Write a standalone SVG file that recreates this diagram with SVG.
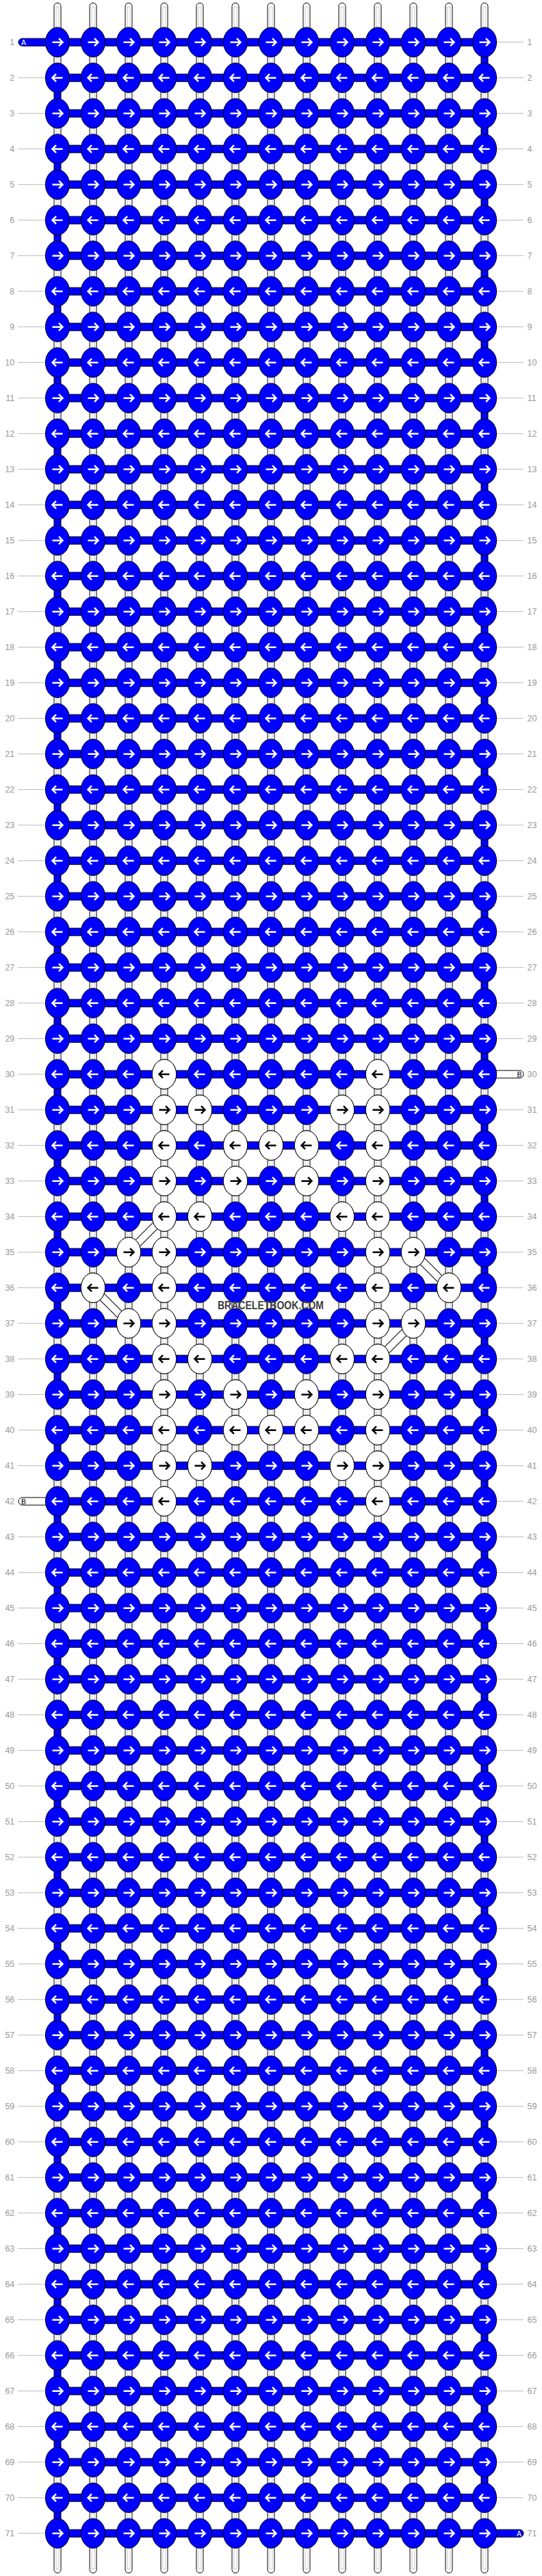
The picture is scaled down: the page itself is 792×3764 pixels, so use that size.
<svg xmlns="http://www.w3.org/2000/svg" xmlns:xlink="http://www.w3.org/1999/xlink" width="792" height="3764" viewBox="0 0 792 3764">
<style>
.kb{fill:#0000ff;stroke:#000;stroke-width:1}
.kw{fill:#fff;stroke:#000;stroke-width:1}
.aw{fill:none;stroke:#fff;stroke-width:2.5}
.ak{fill:none;stroke:#000;stroke-width:2.5}
.hb{fill:#0000ff;stroke:#000;stroke-width:1}
.vw{fill:#fff;stroke:#000;stroke-width:1}
.gl{fill:none;stroke:#c8c8c8;stroke-width:1}
.ln{fill:none;stroke:#bbbbbb;stroke-width:1}
.lbl{font-family:"Liberation Sans",Arial,sans-serif;font-size:12.5px;fill:#999999}
.tab{font-family:"Liberation Sans",Arial,sans-serif;font-size:10.5px}
.dg1{stroke:#000;stroke-width:12;fill:none}
.dg2{stroke:#fff;stroke-width:10;fill:none}
.wm{font-family:"Liberation Sans",Arial,sans-serif;font-size:16px;font-weight:bold;fill:#3c3c3c}
</style>
<defs>
<path id="ar" d="M-7.5,0H7M2,-5.5L7.5,0L2,5.5"/>
<path id="al" d="M7.5,0H-7M-2,-5.5L-7.5,0L-2,5.5"/>
<g id="kbr"><ellipse rx="17.6" ry="21.7" class="kb"/><use href="#ar" class="aw"/></g>
<g id="kbl"><ellipse rx="17.6" ry="21.7" class="kb"/><use href="#al" class="aw"/></g>
<g id="kwr"><ellipse rx="17.6" ry="21.7" class="kw"/><use href="#ar" class="ak"/></g>
<g id="kwl"><ellipse rx="17.6" ry="21.7" class="kw"/><use href="#al" class="ak"/></g>
<g id="RR"><rect x="84" y="-5.5" width="624" height="11" class="hb"/><use href="#kbr" x="84"/><use href="#kbr" x="136"/><use href="#kbr" x="188"/><use href="#kbr" x="240"/><use href="#kbr" x="292"/><use href="#kbr" x="344"/><use href="#kbr" x="396"/><use href="#kbr" x="448"/><use href="#kbr" x="500"/><use href="#kbr" x="552"/><use href="#kbr" x="604"/><use href="#kbr" x="656"/><use href="#kbr" x="708"/></g>
<g id="RL"><rect x="84" y="-5.5" width="624" height="11" class="hb"/><use href="#kbl" x="84"/><use href="#kbl" x="136"/><use href="#kbl" x="188"/><use href="#kbl" x="240"/><use href="#kbl" x="292"/><use href="#kbl" x="344"/><use href="#kbl" x="396"/><use href="#kbl" x="448"/><use href="#kbl" x="500"/><use href="#kbl" x="552"/><use href="#kbl" x="604"/><use href="#kbl" x="656"/><use href="#kbl" x="708"/></g>
<g id="vc"><rect x="-5" y="10" width="10" height="32" class="vw"/><rect x="-2" y="10" width="4" height="32" class="gl"/></g>
<rect id="vb" x="-5" y="10" width="10" height="32" class="hb"/>
<g id="GO"><use href="#vc" x="84"/><use href="#vc" x="136"/><use href="#vc" x="188"/><use href="#vc" x="240"/><use href="#vc" x="292"/><use href="#vc" x="344"/><use href="#vc" x="396"/><use href="#vc" x="448"/><use href="#vc" x="500"/><use href="#vc" x="552"/><use href="#vc" x="604"/><use href="#vc" x="656"/><use href="#vb" x="708"/></g>
<g id="GE"><use href="#vb" x="84"/><use href="#vc" x="136"/><use href="#vc" x="188"/><use href="#vc" x="240"/><use href="#vc" x="292"/><use href="#vc" x="344"/><use href="#vc" x="396"/><use href="#vc" x="448"/><use href="#vc" x="500"/><use href="#vc" x="552"/><use href="#vc" x="604"/><use href="#vc" x="656"/><use href="#vc" x="708"/></g>
<g id="tu"><rect x="-5" y="0" width="10" height="58" rx="5" class="vw"/><rect x="-2" y="6" width="4" height="46" class="gl"/></g>
<g id="TT"><use href="#tu" x="84"/><use href="#tu" x="136"/><use href="#tu" x="188"/><use href="#tu" x="240"/><use href="#tu" x="292"/><use href="#tu" x="344"/><use href="#tu" x="396"/><use href="#tu" x="448"/><use href="#tu" x="500"/><use href="#tu" x="552"/><use href="#tu" x="604"/><use href="#tu" x="656"/><use href="#tu" x="708"/></g>
</defs>
<rect width="792" height="3764" fill="#fff"/>
<g transform="translate(0,9.67)">
<path class="ln" d="M26,52H70M722,52H765M26,104H70M722,104H765M26,156H70M722,156H765M26,208H70M722,208H765M26,260H70M722,260H765M26,312H70M722,312H765M26,364H70M722,364H765M26,416H70M722,416H765M26,468H70M722,468H765M26,520H70M722,520H765M26,572H70M722,572H765M26,624H70M722,624H765M26,676H70M722,676H765M26,728H70M722,728H765M26,780H70M722,780H765M26,832H70M722,832H765M26,884H70M722,884H765M26,936H70M722,936H765M26,988H70M722,988H765M26,1040H70M722,1040H765M26,1092H70M722,1092H765M26,1144H70M722,1144H765M26,1196H70M722,1196H765M26,1248H70M722,1248H765M26,1300H70M722,1300H765M26,1352H70M722,1352H765M26,1404H70M722,1404H765M26,1456H70M722,1456H765M26,1508H70M722,1508H765M26,1560H70M26,1612H70M722,1612H765M26,1664H70M722,1664H765M26,1716H70M722,1716H765M26,1768H70M722,1768H765M26,1820H70M722,1820H765M26,1872H70M722,1872H765M26,1924H70M722,1924H765M26,1976H70M722,1976H765M26,2028H70M722,2028H765M26,2080H70M722,2080H765M26,2132H70M722,2132H765M722,2184H765M26,2236H70M722,2236H765M26,2288H70M722,2288H765M26,2340H70M722,2340H765M26,2392H70M722,2392H765M26,2444H70M722,2444H765M26,2496H70M722,2496H765M26,2548H70M722,2548H765M26,2600H70M722,2600H765M26,2652H70M722,2652H765M26,2704H70M722,2704H765M26,2756H70M722,2756H765M26,2808H70M722,2808H765M26,2860H70M722,2860H765M26,2912H70M722,2912H765M26,2964H70M722,2964H765M26,3016H70M722,3016H765M26,3068H70M722,3068H765M26,3120H70M722,3120H765M26,3172H70M722,3172H765M26,3224H70M722,3224H765M26,3276H70M722,3276H765M26,3328H70M722,3328H765M26,3380H70M722,3380H765M26,3432H70M722,3432H765M26,3484H70M722,3484H765M26,3536H70M722,3536H765M26,3588H70M722,3588H765M26,3640H70M722,3640H765M26,3692H70"/>
<g class="lbl" text-anchor="end">
<text x="21.3" y="56.5">1</text><text x="21.3" y="108.5">2</text><text x="21.3" y="160.5">3</text><text x="21.3" y="212.5">4</text><text x="21.3" y="264.5">5</text><text x="21.3" y="316.5">6</text><text x="21.3" y="368.5">7</text><text x="21.3" y="420.5">8</text><text x="21.3" y="472.5">9</text><text x="21.3" y="524.5">10</text><text x="21.3" y="576.5">11</text><text x="21.3" y="628.5">12</text><text x="21.3" y="680.5">13</text><text x="21.3" y="732.5">14</text><text x="21.3" y="784.5">15</text><text x="21.3" y="836.5">16</text><text x="21.3" y="888.5">17</text><text x="21.3" y="940.5">18</text><text x="21.3" y="992.5">19</text><text x="21.3" y="1044.5">20</text><text x="21.3" y="1096.5">21</text><text x="21.3" y="1148.5">22</text><text x="21.3" y="1200.5">23</text><text x="21.3" y="1252.5">24</text><text x="21.3" y="1304.5">25</text><text x="21.3" y="1356.5">26</text><text x="21.3" y="1408.5">27</text><text x="21.3" y="1460.5">28</text><text x="21.3" y="1512.5">29</text><text x="21.3" y="1564.5">30</text><text x="21.3" y="1616.5">31</text><text x="21.3" y="1668.5">32</text><text x="21.3" y="1720.5">33</text><text x="21.3" y="1772.5">34</text><text x="21.3" y="1824.5">35</text><text x="21.3" y="1876.5">36</text><text x="21.3" y="1928.5">37</text><text x="21.3" y="1980.5">38</text><text x="21.3" y="2032.5">39</text><text x="21.3" y="2084.5">40</text><text x="21.3" y="2136.5">41</text><text x="21.3" y="2188.5">42</text><text x="21.3" y="2240.5">43</text><text x="21.3" y="2292.5">44</text><text x="21.3" y="2344.5">45</text><text x="21.3" y="2396.5">46</text><text x="21.3" y="2448.5">47</text><text x="21.3" y="2500.5">48</text><text x="21.3" y="2552.5">49</text><text x="21.3" y="2604.5">50</text><text x="21.3" y="2656.5">51</text><text x="21.3" y="2708.5">52</text><text x="21.3" y="2760.5">53</text><text x="21.3" y="2812.5">54</text><text x="21.3" y="2864.5">55</text><text x="21.3" y="2916.5">56</text><text x="21.3" y="2968.5">57</text><text x="21.3" y="3020.5">58</text><text x="21.3" y="3072.5">59</text><text x="21.3" y="3124.5">60</text><text x="21.3" y="3176.5">61</text><text x="21.3" y="3228.5">62</text><text x="21.3" y="3280.5">63</text><text x="21.3" y="3332.5">64</text><text x="21.3" y="3384.5">65</text><text x="21.3" y="3436.5">66</text><text x="21.3" y="3488.5">67</text><text x="21.3" y="3540.5">68</text><text x="21.3" y="3592.5">69</text><text x="21.3" y="3644.5">70</text><text x="21.3" y="3696.5">71</text>
</g>
<g class="lbl">
<text x="770.5" y="56.5">1</text><text x="770.5" y="108.5">2</text><text x="770.5" y="160.5">3</text><text x="770.5" y="212.5">4</text><text x="770.5" y="264.5">5</text><text x="770.5" y="316.5">6</text><text x="770.5" y="368.5">7</text><text x="770.5" y="420.5">8</text><text x="770.5" y="472.5">9</text><text x="770.5" y="524.5">10</text><text x="770.5" y="576.5">11</text><text x="770.5" y="628.5">12</text><text x="770.5" y="680.5">13</text><text x="770.5" y="732.5">14</text><text x="770.5" y="784.5">15</text><text x="770.5" y="836.5">16</text><text x="770.5" y="888.5">17</text><text x="770.5" y="940.5">18</text><text x="770.5" y="992.5">19</text><text x="770.5" y="1044.5">20</text><text x="770.5" y="1096.5">21</text><text x="770.5" y="1148.5">22</text><text x="770.5" y="1200.5">23</text><text x="770.5" y="1252.5">24</text><text x="770.5" y="1304.5">25</text><text x="770.5" y="1356.5">26</text><text x="770.5" y="1408.5">27</text><text x="770.5" y="1460.5">28</text><text x="770.5" y="1512.5">29</text><text x="770.5" y="1564.5">30</text><text x="770.5" y="1616.5">31</text><text x="770.5" y="1668.5">32</text><text x="770.5" y="1720.5">33</text><text x="770.5" y="1772.5">34</text><text x="770.5" y="1824.5">35</text><text x="770.5" y="1876.5">36</text><text x="770.5" y="1928.5">37</text><text x="770.5" y="1980.5">38</text><text x="770.5" y="2032.5">39</text><text x="770.5" y="2084.5">40</text><text x="770.5" y="2136.5">41</text><text x="770.5" y="2188.5">42</text><text x="770.5" y="2240.5">43</text><text x="770.5" y="2292.5">44</text><text x="770.5" y="2344.5">45</text><text x="770.5" y="2396.5">46</text><text x="770.5" y="2448.5">47</text><text x="770.5" y="2500.5">48</text><text x="770.5" y="2552.5">49</text><text x="770.5" y="2604.5">50</text><text x="770.5" y="2656.5">51</text><text x="770.5" y="2708.5">52</text><text x="770.5" y="2760.5">53</text><text x="770.5" y="2812.5">54</text><text x="770.5" y="2864.5">55</text><text x="770.5" y="2916.5">56</text><text x="770.5" y="2968.5">57</text><text x="770.5" y="3020.5">58</text><text x="770.5" y="3072.5">59</text><text x="770.5" y="3124.5">60</text><text x="770.5" y="3176.5">61</text><text x="770.5" y="3228.5">62</text><text x="770.5" y="3280.5">63</text><text x="770.5" y="3332.5">64</text><text x="770.5" y="3384.5">65</text><text x="770.5" y="3436.5">66</text><text x="770.5" y="3488.5">67</text><text x="770.5" y="3540.5">68</text><text x="770.5" y="3592.5">69</text><text x="770.5" y="3644.5">70</text><text x="770.5" y="3696.5">71</text>
</g>
<g id="strings-top"><use href="#TT" y="-5.4"/></g>
<g id="strings-bottom"><use href="#TT" y="3692"/></g>
<g id="connectors">
<use href="#GO" y="52"/><use href="#GE" y="104"/><use href="#GO" y="156"/><use href="#GE" y="208"/><use href="#GO" y="260"/><use href="#GE" y="312"/><use href="#GO" y="364"/><use href="#GE" y="416"/><use href="#GO" y="468"/><use href="#GE" y="520"/><use href="#GO" y="572"/><use href="#GE" y="624"/><use href="#GO" y="676"/><use href="#GE" y="728"/><use href="#GO" y="780"/><use href="#GE" y="832"/><use href="#GO" y="884"/><use href="#GE" y="936"/><use href="#GO" y="988"/><use href="#GE" y="1040"/><use href="#GO" y="1092"/><use href="#GE" y="1144"/><use href="#GO" y="1196"/><use href="#GE" y="1248"/><use href="#GO" y="1300"/><use href="#GE" y="1352"/><use href="#GO" y="1404"/><use href="#GE" y="1456"/><use href="#GO" y="1508"/><use href="#GE" y="1560"/><use href="#GO" y="1612"/><use href="#GE" y="1664"/><use href="#GO" y="1716"/><use href="#GE" y="1768"/><use href="#GO" y="1820"/><use href="#GE" y="1872"/><use href="#GO" y="1924"/><use href="#GE" y="1976"/><use href="#GO" y="2028"/><use href="#GE" y="2080"/><use href="#GO" y="2132"/><use href="#GE" y="2184"/><use href="#GO" y="2236"/><use href="#GE" y="2288"/><use href="#GO" y="2340"/><use href="#GE" y="2392"/><use href="#GO" y="2444"/><use href="#GE" y="2496"/><use href="#GO" y="2548"/><use href="#GE" y="2600"/><use href="#GO" y="2652"/><use href="#GE" y="2704"/><use href="#GO" y="2756"/><use href="#GE" y="2808"/><use href="#GO" y="2860"/><use href="#GE" y="2912"/><use href="#GO" y="2964"/><use href="#GE" y="3016"/><use href="#GO" y="3068"/><use href="#GE" y="3120"/><use href="#GO" y="3172"/><use href="#GE" y="3224"/><use href="#GO" y="3276"/><use href="#GE" y="3328"/><use href="#GO" y="3380"/><use href="#GE" y="3432"/><use href="#GO" y="3484"/><use href="#GE" y="3536"/><use href="#GO" y="3588"/><use href="#GE" y="3640"/>
<path class="dg1" d="M240,1768L188,1820M136,1872L188,1924M604,1820L656,1872M604,1924L552,1976"/>
<path class="dg2" d="M240,1768L188,1820M136,1872L188,1924M604,1820L656,1872M604,1924L552,1976"/>
</g>
<g id="tabs">
<g id="tab-A-start"><rect x="27" y="46.5" width="60" height="11" rx="5.5" class="hb"/><text class="tab" x="31" y="56" fill="#fff">A</text></g>
<g id="tab-A-end"><rect x="705" y="3686.5" width="60" height="11" rx="5.5" class="hb"/><text class="tab" x="755" y="3696" fill="#fff">A</text></g>
<g id="tab-B-start"><rect x="705" y="1554.5" width="60" height="11" rx="5.5" class="vw"/><text class="tab" x="755.5" y="1564" fill="#000">B</text></g>
<g id="tab-B-end"><rect x="27" y="2178.5" width="60" height="11" rx="5.5" class="vw"/><text class="tab" x="31" y="2188" fill="#000">B</text></g>
</g>
<g id="knots">
<g id="row-1"><use href="#RR" y="52"/></g>
<g id="row-2"><use href="#RL" y="104"/></g>
<g id="row-3"><use href="#RR" y="156"/></g>
<g id="row-4"><use href="#RL" y="208"/></g>
<g id="row-5"><use href="#RR" y="260"/></g>
<g id="row-6"><use href="#RL" y="312"/></g>
<g id="row-7"><use href="#RR" y="364"/></g>
<g id="row-8"><use href="#RL" y="416"/></g>
<g id="row-9"><use href="#RR" y="468"/></g>
<g id="row-10"><use href="#RL" y="520"/></g>
<g id="row-11"><use href="#RR" y="572"/></g>
<g id="row-12"><use href="#RL" y="624"/></g>
<g id="row-13"><use href="#RR" y="676"/></g>
<g id="row-14"><use href="#RL" y="728"/></g>
<g id="row-15"><use href="#RR" y="780"/></g>
<g id="row-16"><use href="#RL" y="832"/></g>
<g id="row-17"><use href="#RR" y="884"/></g>
<g id="row-18"><use href="#RL" y="936"/></g>
<g id="row-19"><use href="#RR" y="988"/></g>
<g id="row-20"><use href="#RL" y="1040"/></g>
<g id="row-21"><use href="#RR" y="1092"/></g>
<g id="row-22"><use href="#RL" y="1144"/></g>
<g id="row-23"><use href="#RR" y="1196"/></g>
<g id="row-24"><use href="#RL" y="1248"/></g>
<g id="row-25"><use href="#RR" y="1300"/></g>
<g id="row-26"><use href="#RL" y="1352"/></g>
<g id="row-27"><use href="#RR" y="1404"/></g>
<g id="row-28"><use href="#RL" y="1456"/></g>
<g id="row-29"><use href="#RR" y="1508"/></g>
<g id="row-30"><use href="#RL" y="1560"/><use id="k30-4" href="#kwl" x="240" y="1560"/><use id="k30-10" href="#kwl" x="552" y="1560"/></g>
<g id="row-31"><use href="#RR" y="1612"/><use id="k31-4" href="#kwr" x="240" y="1612"/><use id="k31-5" href="#kwr" x="292" y="1612"/><use id="k31-9" href="#kwr" x="500" y="1612"/><use id="k31-10" href="#kwr" x="552" y="1612"/></g>
<g id="row-32"><use href="#RL" y="1664"/><use id="k32-4" href="#kwl" x="240" y="1664"/><use id="k32-6" href="#kwl" x="344" y="1664"/><use id="k32-7" href="#kwl" x="396" y="1664"/><use id="k32-8" href="#kwl" x="448" y="1664"/><use id="k32-10" href="#kwl" x="552" y="1664"/></g>
<g id="row-33"><use href="#RR" y="1716"/><use id="k33-4" href="#kwr" x="240" y="1716"/><use id="k33-6" href="#kwr" x="344" y="1716"/><use id="k33-8" href="#kwr" x="448" y="1716"/><use id="k33-10" href="#kwr" x="552" y="1716"/></g>
<g id="row-34"><use href="#RL" y="1768"/><use id="k34-4" href="#kwl" x="240" y="1768"/><use id="k34-5" href="#kwl" x="292" y="1768"/><use id="k34-9" href="#kwl" x="500" y="1768"/><use id="k34-10" href="#kwl" x="552" y="1768"/></g>
<g id="row-35"><use href="#RR" y="1820"/><use id="k35-3" href="#kwr" x="188" y="1820"/><use id="k35-4" href="#kwr" x="240" y="1820"/><use id="k35-10" href="#kwr" x="552" y="1820"/><use id="k35-11" href="#kwr" x="604" y="1820"/></g>
<g id="row-36"><use href="#RL" y="1872"/><use id="k36-2" href="#kwl" x="136" y="1872"/><use id="k36-4" href="#kwl" x="240" y="1872"/><use id="k36-10" href="#kwl" x="552" y="1872"/><use id="k36-12" href="#kwl" x="656" y="1872"/></g>
<g id="row-37"><use href="#RR" y="1924"/><use id="k37-3" href="#kwr" x="188" y="1924"/><use id="k37-4" href="#kwr" x="240" y="1924"/><use id="k37-10" href="#kwr" x="552" y="1924"/><use id="k37-11" href="#kwr" x="604" y="1924"/></g>
<g id="row-38"><use href="#RL" y="1976"/><use id="k38-4" href="#kwl" x="240" y="1976"/><use id="k38-5" href="#kwl" x="292" y="1976"/><use id="k38-9" href="#kwl" x="500" y="1976"/><use id="k38-10" href="#kwl" x="552" y="1976"/></g>
<g id="row-39"><use href="#RR" y="2028"/><use id="k39-4" href="#kwr" x="240" y="2028"/><use id="k39-6" href="#kwr" x="344" y="2028"/><use id="k39-8" href="#kwr" x="448" y="2028"/><use id="k39-10" href="#kwr" x="552" y="2028"/></g>
<g id="row-40"><use href="#RL" y="2080"/><use id="k40-4" href="#kwl" x="240" y="2080"/><use id="k40-6" href="#kwl" x="344" y="2080"/><use id="k40-7" href="#kwl" x="396" y="2080"/><use id="k40-8" href="#kwl" x="448" y="2080"/><use id="k40-10" href="#kwl" x="552" y="2080"/></g>
<g id="row-41"><use href="#RR" y="2132"/><use id="k41-4" href="#kwr" x="240" y="2132"/><use id="k41-5" href="#kwr" x="292" y="2132"/><use id="k41-9" href="#kwr" x="500" y="2132"/><use id="k41-10" href="#kwr" x="552" y="2132"/></g>
<g id="row-42"><use href="#RL" y="2184"/><use id="k42-4" href="#kwl" x="240" y="2184"/><use id="k42-10" href="#kwl" x="552" y="2184"/></g>
<g id="row-43"><use href="#RR" y="2236"/></g>
<g id="row-44"><use href="#RL" y="2288"/></g>
<g id="row-45"><use href="#RR" y="2340"/></g>
<g id="row-46"><use href="#RL" y="2392"/></g>
<g id="row-47"><use href="#RR" y="2444"/></g>
<g id="row-48"><use href="#RL" y="2496"/></g>
<g id="row-49"><use href="#RR" y="2548"/></g>
<g id="row-50"><use href="#RL" y="2600"/></g>
<g id="row-51"><use href="#RR" y="2652"/></g>
<g id="row-52"><use href="#RL" y="2704"/></g>
<g id="row-53"><use href="#RR" y="2756"/></g>
<g id="row-54"><use href="#RL" y="2808"/></g>
<g id="row-55"><use href="#RR" y="2860"/></g>
<g id="row-56"><use href="#RL" y="2912"/></g>
<g id="row-57"><use href="#RR" y="2964"/></g>
<g id="row-58"><use href="#RL" y="3016"/></g>
<g id="row-59"><use href="#RR" y="3068"/></g>
<g id="row-60"><use href="#RL" y="3120"/></g>
<g id="row-61"><use href="#RR" y="3172"/></g>
<g id="row-62"><use href="#RL" y="3224"/></g>
<g id="row-63"><use href="#RR" y="3276"/></g>
<g id="row-64"><use href="#RL" y="3328"/></g>
<g id="row-65"><use href="#RR" y="3380"/></g>
<g id="row-66"><use href="#RL" y="3432"/></g>
<g id="row-67"><use href="#RR" y="3484"/></g>
<g id="row-68"><use href="#RL" y="3536"/></g>
<g id="row-69"><use href="#RR" y="3588"/></g>
<g id="row-70"><use href="#RL" y="3640"/></g>
<g id="row-71"><use href="#RR" y="3692"/></g>
</g>
<text id="watermark" class="wm" x="395.5" y="1903.8" text-anchor="middle" textLength="155" lengthAdjust="spacingAndGlyphs">BRACELETBOOK.COM</text>
</g>
</svg>
